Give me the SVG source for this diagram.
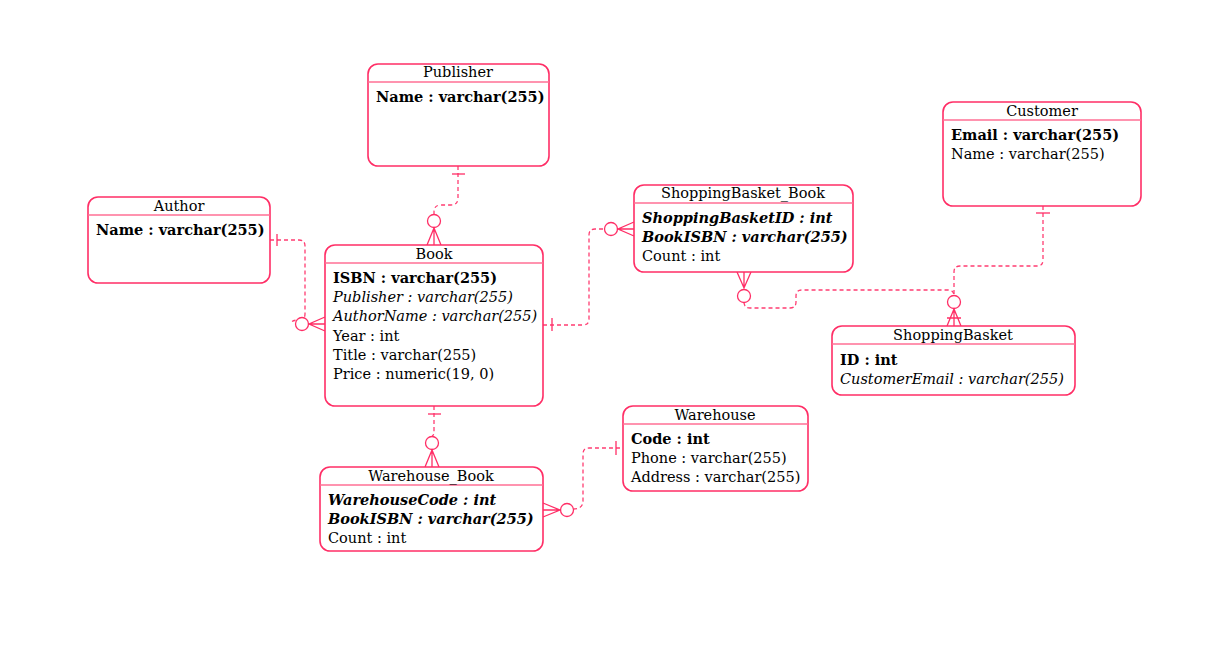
<svg xmlns="http://www.w3.org/2000/svg" width="1216" height="669" viewBox="0 0 1216 669">
<style>
.box{fill:#fff;stroke:#ff2e66;stroke-width:1.6}
.sep{stroke:#ff6f94;stroke-width:1.4}
text{font-family:"DejaVu Serif",serif;font-size:14.5px;fill:#000}
.t{text-anchor:middle}
.pk{font-weight:bold}
.fk{font-style:italic}
.pf{font-weight:bold;font-style:italic}
.c{fill:none;stroke:#ff3d72;stroke-width:1.3;stroke-dasharray:4 3}
.m{fill:none;stroke:#ff2e66;stroke-width:1.3}
.o{fill:#fff;stroke:#ff2e66;stroke-width:1.3}
</style>
<rect width="1216" height="669" fill="#fff"/>
<g id="connectors">
<!-- Publisher - Book -->
<path class="c" d="M458,166 V198 Q458,205 451,205 H441 Q434,205 434,212 V215"/>
<path class="m" d="M452,174 H465"/>
<circle class="o" cx="434" cy="221" r="6.5"/>
<path class="m" d="M427,245 L434,228 L441,245 M434,228 V245"/>
<!-- Author - Book -->
<path class="c" d="M270,240 H299 Q305,240 305,246 V314 Q305,320 299,320 Q291,320 291,324"/>
<path class="m" d="M277,234 V246"/>
<circle class="o" cx="302" cy="324" r="6.5"/>
<path class="m" d="M325,317 L309,324 L325,331 M309,324 H325"/>
<!-- Book - ShoppingBasket_Book -->
<path class="c" d="M543,325 H583 Q589,325 589,319 V235 Q589,229 595,229 H605"/>
<path class="m" d="M552,318 V331"/>
<circle class="o" cx="611" cy="229" r="6.5"/>
<path class="m" d="M634,222 L618,229 L634,236 M618,229 H634"/>
<!-- ShoppingBasket_Book - ShoppingBasket -->
<path class="c" d="M744,302 V302 Q744,308 750,308 H790 Q796,308 796,302 V296 Q796,290 802,290 H948 Q954,290 954,296"/>
<path class="m" d="M737,272 L744,288 L751,272 M744,272 V288"/>
<circle class="o" cx="744" cy="296" r="6.5"/>
<circle class="o" cx="954" cy="302" r="6.5"/>
<path class="m" d="M947,326 L954,309 L961,326 M954,309 V326 M947,318 H961"/>
<!-- Customer - ShoppingBasket -->
<path class="c" d="M1043,206 V260 Q1043,266 1037,266 H960 Q954,266 954,272 V296"/>
<path class="m" d="M1036,213 H1050"/>
<!-- Book - Warehouse_Book -->
<path class="c" d="M434,406 V430 Q434,436 432,436"/>
<path class="m" d="M428,414 H441"/>
<circle class="o" cx="432" cy="443" r="6.5"/>
<path class="m" d="M425,467 L432,450 L439,467 M432,450 V467"/>
<!-- Warehouse_Book - Warehouse -->
<path class="c" d="M573,509 Q583,509 583,501 V454 Q583,448 589,448 H623"/>
<path class="m" d="M616,441 V455"/>
<circle class="o" cx="567" cy="510" r="6.5"/>
<path class="m" d="M543,503 L560,510 L543,517 M543,510 H560"/>
</g>
<g id="Publisher">
<rect class="box" x="368" y="64" width="181" height="102" rx="10"/>
<line class="sep" x1="368" y1="82" x2="549" y2="82"/>
<text class="t" x="458" y="77">Publisher</text>
<text class="pk" x="376" y="102">Name : varchar(255)</text>
</g>
<g id="Author">
<rect class="box" x="88" y="197" width="182" height="86" rx="10"/>
<line class="sep" x1="88" y1="215" x2="270" y2="215"/>
<text class="t" x="179" y="211">Author</text>
<text class="pk" x="96" y="235">Name : varchar(255)</text>
</g>
<g id="Book">
<rect class="box" x="325" y="245" width="218" height="161" rx="10"/>
<line class="sep" x1="325" y1="263" x2="543" y2="263"/>
<text class="t" x="434" y="259">Book</text>
<text class="pk" x="333" y="283">ISBN : varchar(255)</text>
<text class="fk" x="333" y="302">Publisher : varchar(255)</text>
<text class="fk" x="333" y="321">AuthorName : varchar(255)</text>
<text x="333" y="341">Year : int</text>
<text x="333" y="360">Title : varchar(255)</text>
<text x="333" y="379">Price : numeric(19, 0)</text>
</g>
<g id="ShoppingBasket_Book">
<rect class="box" x="634" y="185" width="219" height="87" rx="10"/>
<line class="sep" x1="634" y1="203" x2="853" y2="203"/>
<text class="t" x="743" y="198">ShoppingBasket_Book</text>
<text class="pf" x="642" y="223">ShoppingBasketID : int</text>
<text class="pf" x="642" y="242">BookISBN : varchar(255)</text>
<text x="642" y="261">Count : int</text>
</g>
<g id="Customer">
<rect class="box" x="943" y="102" width="198" height="104" rx="10"/>
<line class="sep" x1="943" y1="120" x2="1141" y2="120"/>
<text class="t" x="1042" y="116">Customer</text>
<text class="pk" x="951" y="140">Email : varchar(255)</text>
<text x="951" y="159">Name : varchar(255)</text>
</g>
<g id="ShoppingBasket">
<rect class="box" x="832" y="326" width="243" height="69" rx="10"/>
<line class="sep" x1="832" y1="344" x2="1075" y2="344"/>
<text class="t" x="953" y="340">ShoppingBasket</text>
<text class="pk" x="840" y="365">ID : int</text>
<text class="fk" x="840" y="384">CustomerEmail : varchar(255)</text>
</g>
<g id="Warehouse">
<rect class="box" x="623" y="406" width="185" height="85" rx="10"/>
<line class="sep" x1="623" y1="424" x2="808" y2="424"/>
<text class="t" x="715" y="420">Warehouse</text>
<text class="pk" x="631" y="444">Code : int</text>
<text x="631" y="463">Phone : varchar(255)</text>
<text x="631" y="482">Address : varchar(255)</text>
</g>
<g id="Warehouse_Book">
<rect class="box" x="320" y="467" width="223" height="84" rx="10"/>
<line class="sep" x1="320" y1="485" x2="543" y2="485"/>
<text class="t" x="431" y="481">Warehouse_Book</text>
<text class="pf" x="328" y="505">WarehouseCode : int</text>
<text class="pf" x="328" y="524">BookISBN : varchar(255)</text>
<text x="328" y="543">Count : int</text>
</g>
</svg>
